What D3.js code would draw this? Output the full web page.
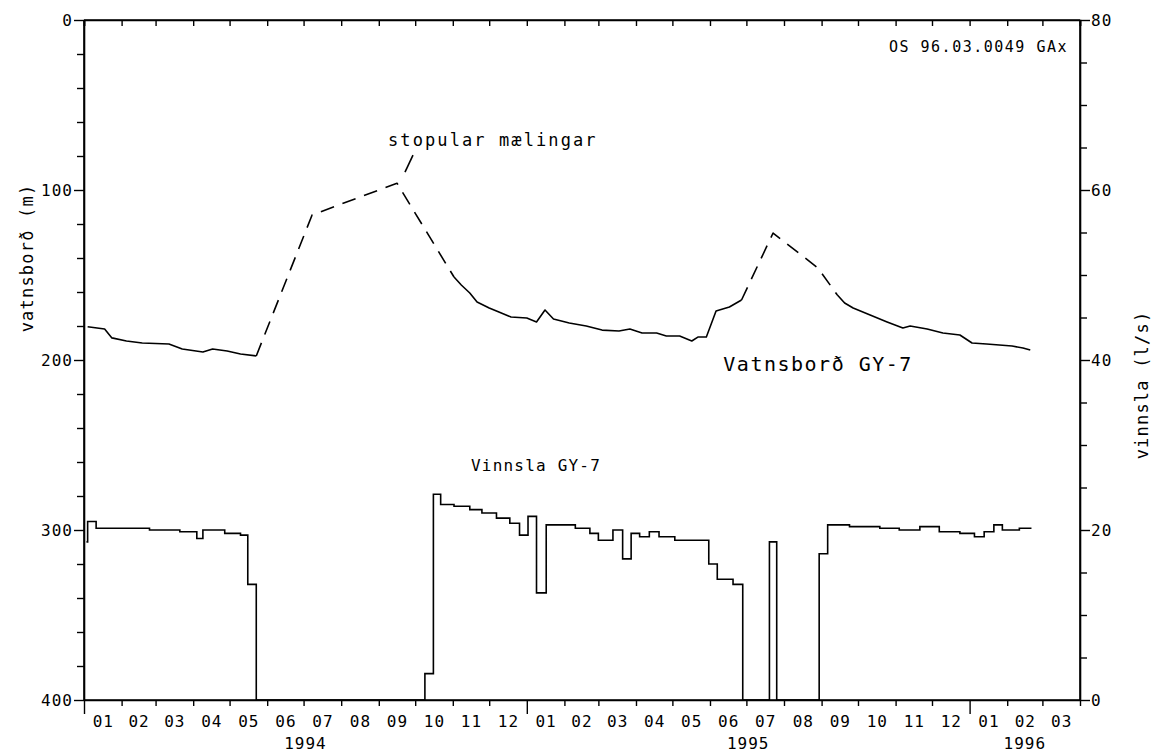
<!DOCTYPE html>
<html><head><meta charset="utf-8">
<script src="https://cdn.jsdelivr.net/npm/d3@7"></script>
<style>
html,body{margin:0;padding:0;background:#fff;}
svg{display:block;}
text{font-family:"DejaVu Sans Mono","Liberation Mono",monospace;fill:#000;}
</style></head>
<body>
<svg id="c" width="1164" height="752"></svg>
<script>
// ---------- data ----------
const monthLabels = ["01","02","03","04","05","06","07","08","09","10","11","12"];
const yearLabels = ["1994","1995","1996"];
const leftTicks = [0,100,200,300,400];
const rightTicks = [0,20,40,60,80];

// water level (m below) — style: segment drawn from previous point
const levelDates = ["1994-01-04","1994-01-18","1994-01-24","1994-02-05","1994-02-18","1994-03-12","1994-03-23","1994-04-09","1994-04-17","1994-04-29","1994-05-10","1994-05-23",
  "1994-07-08","1994-09-16","1994-11-02",
  "1994-11-08","1994-11-15","1994-11-21","1994-12-01","1994-12-09","1994-12-19","1995-01-01","1995-01-09","1995-01-16","1995-01-23","1995-02-05","1995-02-19","1995-03-04","1995-03-18","1995-03-27","1995-04-06","1995-04-18","1995-04-26","1995-05-07","1995-05-17","1995-05-22","1995-05-29","1995-06-06","1995-06-17","1995-06-27",
  "1995-07-23","1995-08-29","1995-09-14",
  "1995-09-20","1995-09-27","1995-10-11","1995-10-25","1995-11-07","1995-11-13","1995-11-27","1995-12-10","1995-12-24","1996-01-03","1996-01-15","1996-02-05","1996-02-14","1996-02-20"];
const levelValues = [180.4,181.8,187,188.8,190,190.6,193.5,195.3,193.5,194.7,196.5,197.6,
  114.7,96,151.2,
  155.9,160.6,165.9,169.4,171.8,174.7,175.3,177.6,170.6,175.9,178.2,180,182.4,182.9,181.8,184.1,184.1,185.9,185.9,188.8,186.5,186.5,171.2,168.8,164.7,
  125.3,145.9,161.8,
  166.5,169.4,173.5,177.6,181.2,180,181.8,184.1,185.3,190,190.6,191.8,192.9,194.1];
const levelStyle = ["s","s","s","s","s","s","s","s","s","s","s","s",
  "d","d","d",
  "s","s","s","s","s","s","s","s","s","s","s","s","s","s","s","s","s","s","s","s","s","s","s","s","s",
  "d","d","d",
  "s","s","s","s","s","s","s","s","s","s","s","s","s","s"];

// pumping (l/s), step values holding until next date
const pumpDates = ["1994-01-03","1994-01-04","1994-01-11","1994-02-24","1994-03-21","1994-04-04","1994-04-09","1994-04-27","1994-05-10","1994-05-16","1994-05-23",
  "1994-10-09","1994-10-16","1994-10-22","1994-11-02","1994-11-15","1994-11-25","1994-12-07","1994-12-18","1994-12-26","1995-01-02","1995-01-09","1995-01-17","1995-02-10","1995-02-22","1995-03-01","1995-03-13","1995-03-21","1995-03-28","1995-04-04","1995-04-12","1995-04-20","1995-05-03","1995-05-31","1995-06-07","1995-06-20","1995-06-28",
  "1995-07-20","1995-07-26","1995-08-30","1995-09-06","1995-09-24","1995-10-19","1995-11-04","1995-11-21","1995-12-07","1995-12-24","1996-01-05","1996-01-13","1996-01-21","1996-01-28","1996-02-11","1996-02-21"];
const pumpValues = [18.6,21.0,20.2,20.0,19.8,19.0,20.0,19.6,19.4,13.6,0,
  3.1,24.2,23.0,22.8,22.4,22.0,21.4,20.8,19.4,21.6,12.6,20.6,20.2,19.6,18.8,20,16.6,19.6,19.2,19.8,19.2,18.8,16.0,14.2,13.6,0,
  18.6,0,17.2,20.6,20.4,20.2,20.0,20.4,19.8,19.6,19.2,19.8,20.6,20,20.2,20.2];

// ---------- drawing ----------
const svg = d3.select("#c");
const P = d => d3.utcParse("%Y-%m-%d")(d);
const x = d3.scaleUtc().domain([Date.UTC(1994,0,1), Date.UTC(1996,3,1)]).range([84,1080]);
const yL = d3.scaleLinear().domain([0,400]).range([20,700]);
const yR = d3.scaleLinear().domain([0,80]).range([700,20]);
const SW = 1.6;

// frame
svg.append("line").attr("x1",84).attr("x2",1080).attr("y1",yL(0)).attr("y2",yL(0)).attr("stroke","#000").attr("stroke-width",SW);
svg.append("line").attr("x1",84).attr("x2",1080).attr("y1",yL(400)).attr("y2",yL(400)).attr("stroke","#000").attr("stroke-width",SW);
svg.append("line").attr("x1",x.range()[0]).attr("x2",x.range()[0]).attr("y1",20).attr("y2",700).attr("stroke","#000").attr("stroke-width",SW);
svg.append("line").attr("x1",x.range()[1]).attr("x2",x.range()[1]).attr("y1",20).attr("y2",700).attr("stroke","#000").attr("stroke-width",SW);

// left axis
const lAx = d3.axisLeft(yL).tickValues(d3.range(0,401,20)).tickFormat(d => leftTicks.includes(d) ? d : "").tickSizeOuter(0).tickPadding(5);
const gL = svg.append("g").attr("transform","translate(84,0)").call(lAx);
gL.selectAll(".tick line").attr("x2", d => leftTicks.includes(d) ? -10 : -7);

// right axis
const rAx = d3.axisRight(yR).tickValues(d3.range(0,81,5)).tickFormat(d => rightTicks.includes(d) ? d : "").tickSizeOuter(0).tickPadding(5);
const gR = svg.append("g").attr("transform","translate(1080,0)").call(rAx);
gR.selectAll(".tick line").attr("x2", d => rightTicks.includes(d) ? 10 : 7);

// bottom axis (month ticks)
const months = x.ticks(d3.utcMonth.every(1));
const bAx = d3.axisBottom(x).tickValues(months).tickFormat("").tickSizeOuter(0);
const gB = svg.append("g").attr("transform","translate(0,700)").call(bAx);
gB.selectAll(".tick line").attr("y2", d => d.getUTCMonth()===0 ? 14 : 6);
// top axis (inward ticks)
const tAx = d3.axisBottom(x).tickValues(months).tickFormat("").tickSizeOuter(0).tickSize(6);
svg.append("g").attr("transform","translate(0,20)").call(tAx);

[gL,gR,gB].forEach(g=>{g.selectAll("text").attr("font-size",16).attr("letter-spacing",1).attr("font-family","DejaVu Sans Mono");});
svg.selectAll(".domain").attr("stroke","#000").attr("stroke-width",SW);
svg.selectAll(".tick line").attr("stroke","#000").attr("stroke-width",1.4);

// month labels centred in month intervals
const monthStarts = d3.utcMonth.range(x.domain()[0], x.domain()[1]);
svg.append("g").selectAll("text").data(monthStarts).join("text")
  .attr("x", d => (x(d) + x(d3.utcMonth.offset(d,1)))/2 + 0.5)
  .attr("y", 727).attr("text-anchor","middle").attr("font-size",16).attr("letter-spacing",1)
  .text(d => monthLabels[d.getUTCMonth()]);

// year labels centred over visible part of each year
svg.append("g").selectAll("text").data(yearLabels).join("text")
  .attr("x", d => { const a = d3.max([x.domain()[0], Date.UTC(+d,0,1)]); const b = d3.min([x.domain()[1], Date.UTC(+d+1,0,1)]); return (x(a)+x(b))/2; })
  .attr("y", 749).attr("text-anchor","middle").attr("font-size",16).attr("letter-spacing",1)
  .text(d => d);

// axis titles
svg.append("text").attr("transform","translate(33,258) rotate(-90)").attr("text-anchor","middle")
  .attr("font-size",17).attr("letter-spacing",1.2).text("vatnsborð (m)");
svg.append("text").attr("transform","translate(1148,385) rotate(-90)").attr("text-anchor","middle")
  .attr("font-size",17).attr("letter-spacing",1.2).text("vinnsla (l/s)");

// water level line, split in runs of equal style
const lvl = levelDates.map((d,i)=>({date:P(d), v:levelValues[i], s:levelStyle[i]}));
const runs = [];
for (let i=1;i<lvl.length;i++){
  const st = lvl[i].s;
  if (!runs.length || runs[runs.length-1].s !== st) runs.push({s:st, pts:[lvl[i-1]]});
  runs[runs.length-1].pts.push(lvl[i]);
}
const lineL = d3.line().x(d=>x(d.date)).y(d=>yL(d.v));
svg.append("g").selectAll("path").data(runs).join("path")
  .attr("d", r => lineL(r.pts)).attr("fill","none").attr("stroke","#000").attr("stroke-width",SW)
  .attr("stroke-linejoin","round")
  .attr("stroke-dasharray", r => r.s==="d" ? "14,9" : null);

// pumping step line
const pump = pumpDates.map((d,i)=>({date:P(d), v:pumpValues[i]}));
const lineR = d3.line().x(d=>x(d.date)).y(d=>yR(d.v)).curve(d3.curveStepAfter);
svg.append("path").attr("d", lineR(pump)).attr("fill","none").attr("stroke","#000").attr("stroke-width",SW);

// annotations
const peak = lvl[13];
svg.append("line").attr("x1", x(peak.date)+8).attr("y1", yL(peak.v)-11)
  .attr("x2", x(peak.date)+16).attr("y2", yL(peak.v)-28).attr("stroke","#000").attr("stroke-width",SW);
svg.append("text").attr("x", x(peak.date)-9).attr("y", yL(peak.v)-37).attr("font-size",17).attr("letter-spacing",2.1).text("stopular mælingar");
svg.append("text").attr("x", x(P("1995-06-12"))).attr("y", yL(206.5)).attr("font-size",20).attr("letter-spacing",1.5).text("Vatnsborð GY-7");
svg.append("text").attr("x", x(P("1994-11-16"))).attr("y", yL(265)).attr("font-size",16).attr("letter-spacing",1.2).text("Vinnsla GY-7");
svg.append("text").attr("x", 1068).attr("y", 52).attr("text-anchor","end").attr("font-size",15).attr("letter-spacing",1.5).text("OS 96.03.0049 GAx");
</script>
</body></html>
